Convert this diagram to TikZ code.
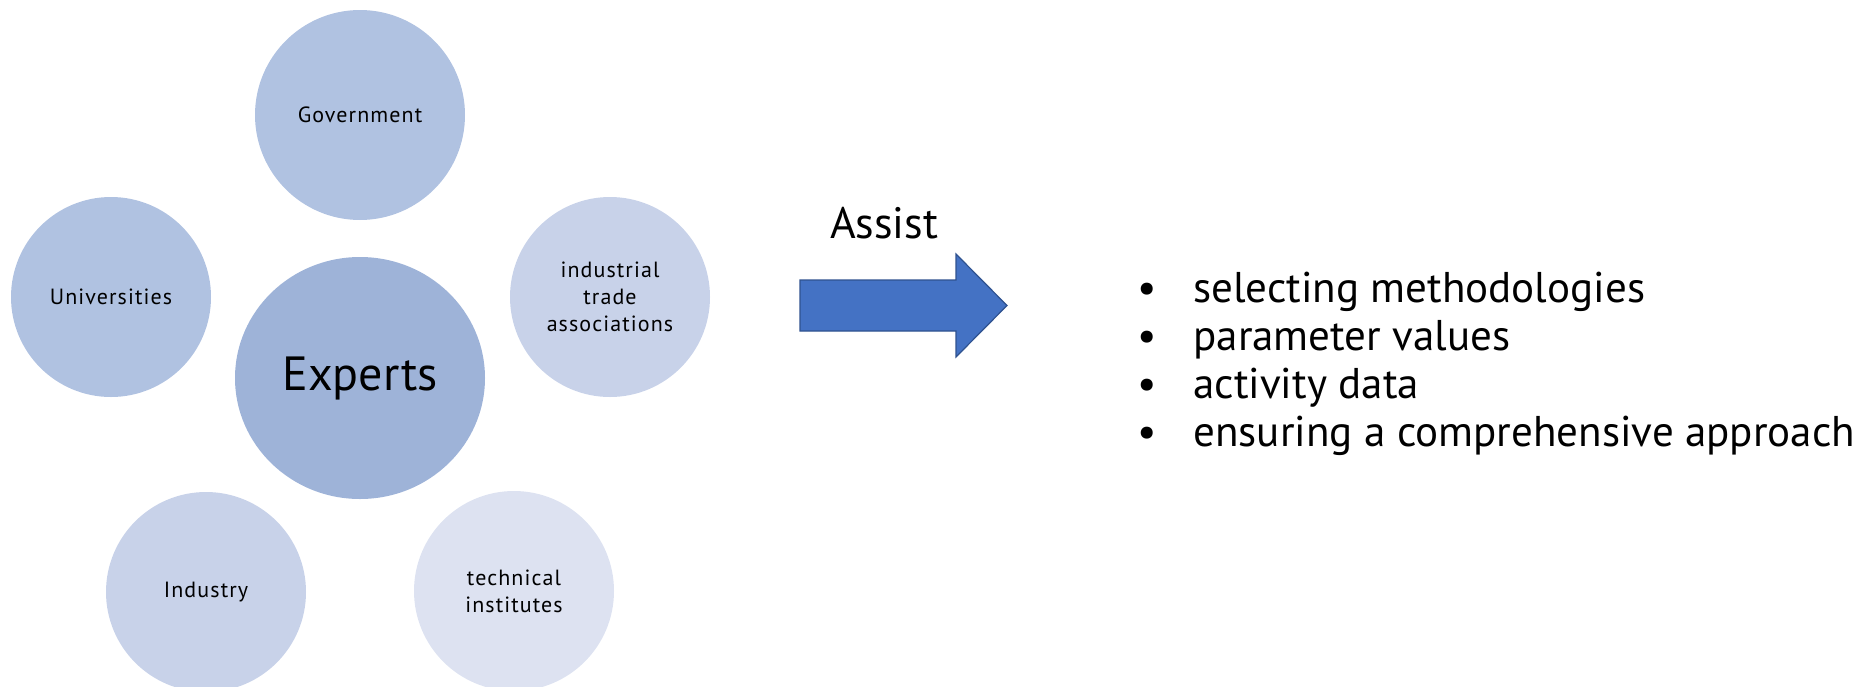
\documentclass[tikz,border=0pt]{standalone}
\usepackage{fontspec}
\setmainfont{PT Sans}
\newfontfamily\spacedfont[LetterSpace=5]{PT Sans}
\usepackage{tikz}
\usetikzlibrary{shapes.geometric}
\definecolor{govblue}{HTML}{B0C2E1}
\definecolor{expblue}{HTML}{9EB3D8}
\definecolor{paleblue}{HTML}{C8D2E9}
\definecolor{faintblue}{HTML}{DDE2F1}
\definecolor{arrowblue}{HTML}{4472C4}
\definecolor{arrowline}{HTML}{2F528F}

\begin{document}
\begin{tikzpicture}[
		x=0.5pt, y=-0.5pt,
		party/.style={circle, minimum size=100pt, inner sep=0pt, align=center,
			font=\spacedfont\fontsize{11}{13.5}\selectfont},
		core/.style={ellipse, fill=expblue, minimum width=125pt, minimum height=121pt,
			inner sep=0pt, font=\fontsize{24}{28}\selectfont},
		bigtext/.style={font=\fontsize{21.5}{24}\selectfont},
%		point/.style={anchor=base west}
		]
		\useasboundingbox (0,0) rectangle (1874,686);
		% the circle of parties
		\node[party, fill=govblue, minimum size=105pt] (gov) at (360,115) {Government};
		\node[party, fill=govblue] (uni) at (111,297) {Universities};
		\node[party, fill=paleblue] (trade) at (610,297) {industrial\\trade\\associations};
		\node[party, fill=paleblue] (industry) at (206,592) {Industry};
		\node[party, fill=faintblue] (tech) at (514,591) {technical\\institutes};
		\node[core] (experts) at (360,378) {Experts};
		% arrow
		\draw[fill=arrowblue, draw=arrowline, line width=0.6pt]
			(800,280) -- (956,280) -- (956,254) -- (1007,305.5) -- (956,357)
			-- (956,331) -- (800,331) -- cycle;
		\node[bigtext, font=\fontsize{22}{24}\selectfont, anchor=base] (assist) at (884,238) {Assist};
		% what they help with
		\foreach \txt [count=\i] in {selecting methodologies, parameter values,
			activity data, ensuring a comprehensive approach}
		{
			\node[bigtext, anchor=base] (dot\i) at (1147,302+48*\i-48) {\textbullet};
			\node[bigtext, anchor=base west, inner sep=0pt] (point\i) at (1193,302+48*\i-48) {\txt};
		}
\end{tikzpicture}
\end{document}
